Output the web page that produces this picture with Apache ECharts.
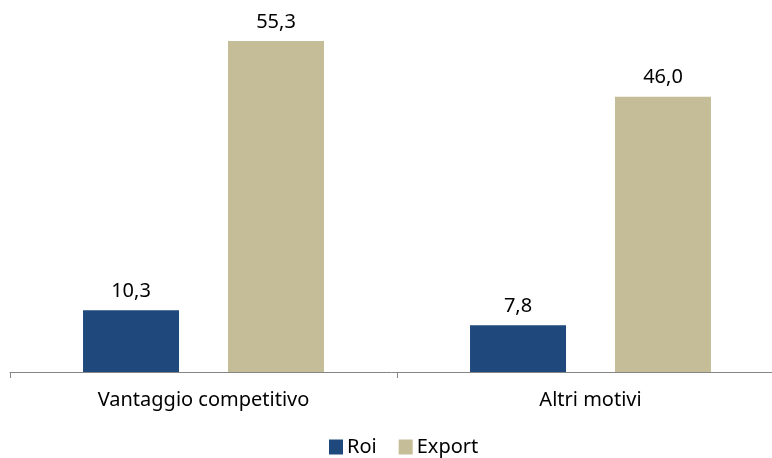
<!DOCTYPE html>
<html>
<head>
<meta charset="utf-8">
<script src="https://cdn.jsdelivr.net/npm/echarts@6/dist/echarts.min.js"></script>
<style>
  html, body { margin: 0; padding: 0; background: #fff; }
  #chart { width: 772px; height: 458px; }
</style>
</head>
<body>
<div id="chart"></div>
<script>
const categories = ['Vantaggio competitivo', 'Altri motivi'];
const roiValues = [10.3, 7.8];
const exportValues = [55.3, 46.0];

const FONT = '"Noto Sans", sans-serif';
const fmt = p => p.value.toFixed(1).replace('.', ',');

const chart = echarts.init(document.getElementById('chart'));
chart.setOption({
  animation: false,
  grid: { left: 10, width: 774, top: 13, bottom: 86, containLabel: false, outerBoundsMode: 'none' },
  legend: {
    top: 437,
    left: 329,
    padding: 0,
    itemWidth: 14,
    itemHeight: 15,
    itemGap: 22,
    icon: 'rect',
    textStyle: { fontFamily: FONT, fontSize: 20, color: '#000', padding: [0, 0, 0, -1] },
    data: ['Roi', 'Export']
  },
  xAxis: {
    type: 'category',
    data: categories,
    axisLine: { lineStyle: { color: '#868686', width: 1 } },
    axisTick: { show: true, length: 6, lineStyle: { color: '#868686' } },
    axisLabel: { fontFamily: FONT, fontSize: 20, color: '#000', margin: 18 }
  },
  yAxis: {
    type: 'value',
    min: 0,
    max: 60,
    show: false,
    splitLine: { show: false }
  },
  series: [
    {
      name: 'Roi',
      type: 'bar',
      data: roiValues,
      barWidth: 96,
      barGap: '51%',
      itemStyle: { color: '#1F497D' },
      label: { show: true, position: 'top', distance: 9, formatter: fmt, fontFamily: FONT, fontSize: 20, color: '#000' }
    },
    {
      name: 'Export',
      type: 'bar',
      data: exportValues,
      barWidth: 96,
      barGap: '51%',
      itemStyle: { color: '#C4BD97' },
      label: { show: true, position: 'top', distance: 9, formatter: fmt, fontFamily: FONT, fontSize: 20, color: '#000' }
    }
  ]
});
</script>
</body>
</html>
